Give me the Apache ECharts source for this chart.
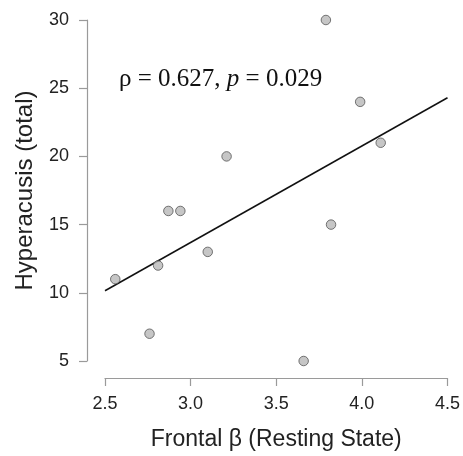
<!DOCTYPE html>
<html>
<head>
<meta charset="utf-8">
<script src="https://cdn.jsdelivr.net/npm/echarts@6/dist/echarts.min.js"></script>
<style>
  html, body { margin: 0; padding: 0; background: #fff; }
  #chart { width: 463px; height: 456px; }
</style>
</head>
<body>
<div id="chart"></div>
<script>
// scatter values
const frontalBeta = [3.79, 3.99, 4.11, 3.21, 2.87, 2.94, 3.82, 3.10, 2.81, 2.56, 2.76, 3.66]
const hyperacusis = [30, 24, 21, 20, 16, 16, 15, 13, 12, 11, 7, 5]

// fitted line endpoints
const fitX = [2.5, 4.5]
const fitY = [10.15, 24.3]

const xTicks = [2.5, 3.0, 3.5, 4.0, 4.5]
const yTicks = [5, 10, 15, 20, 25, 30]

const points = frontalBeta.map((x, i) => [x, hyperacusis[i]])
const fitLine = fitX.map((x, i) => [x, fitY[i]])

const chart = echarts.init(document.getElementById('chart'))

const axisGray = '#9a9a9a'
const sans = 'Liberation Sans, Arial, sans-serif'
const serif = 'Liberation Serif, Times New Roman, serif'

chart.setOption({
  animation: false,
  grid: { left: 105, right: 14, top: 20, bottom: 94 },
  xAxis: {
    type: 'value',
    min: xTicks[0],
    max: xTicks[xTicks.length - 1],
    interval: 0.5,
    offset: 17,
    name: 'Frontal \u03b2 (Resting State)',
    nameLocation: 'middle',
    nameGap: 50,
    nameTextStyle: { color: '#222', fontSize: 23, fontFamily: sans },
    axisLine: { show: true, lineStyle: { color: axisGray, width: 1.2 } },
    axisTick: { show: true, length: 8, lineStyle: { color: axisGray, width: 1.2 } },
    axisLabel: {
      color: '#222', fontSize: 18, fontFamily: sans, margin: 17,
      formatter: v => v.toFixed(1)
    },
    splitLine: { show: false }
  },
  yAxis: {
    type: 'value',
    min: yTicks[0],
    max: yTicks[yTicks.length - 1],
    interval: 5,
    offset: 18,
    name: 'Hyperacusis (total)',
    nameLocation: 'middle',
    nameGap: 50,
    nameRotate: 90,
    nameTextStyle: { color: '#222', fontSize: 24, fontFamily: sans },
    axisLine: { show: true, lineStyle: { color: axisGray, width: 1.2 } },
    axisTick: { show: true, length: 8, lineStyle: { color: axisGray, width: 1.2 } },
    axisLabel: { color: '#222', fontSize: 18, fontFamily: sans, margin: 18 },
    splitLine: { show: false }
  },
  series: [
    {
      type: 'line',
      data: fitLine,
      symbol: 'none',
      lineStyle: { color: '#111', width: 1.5 },
      z: 1
    },
    {
      type: 'scatter',
      data: points,
      symbol: 'circle',
      symbolSize: 9.5,
      itemStyle: { color: '#b8b8b8', borderColor: '#555', borderWidth: 1 },
      z: 2
    }
  ],
  graphic: [
    {
      type: 'text',
      left: 119,
      top: 67,
      style: {
        text: '{n|\u03c1 = 0.627, }{i|p}{n| = 0.029}',
        rich: {
          n: { fontFamily: serif, fontSize: 25, fill: '#111' },
          i: { fontFamily: serif, fontSize: 25, fontStyle: 'italic', fill: '#111' }
        }
      }
    }
  ]
})
</script>
</body>
</html>
